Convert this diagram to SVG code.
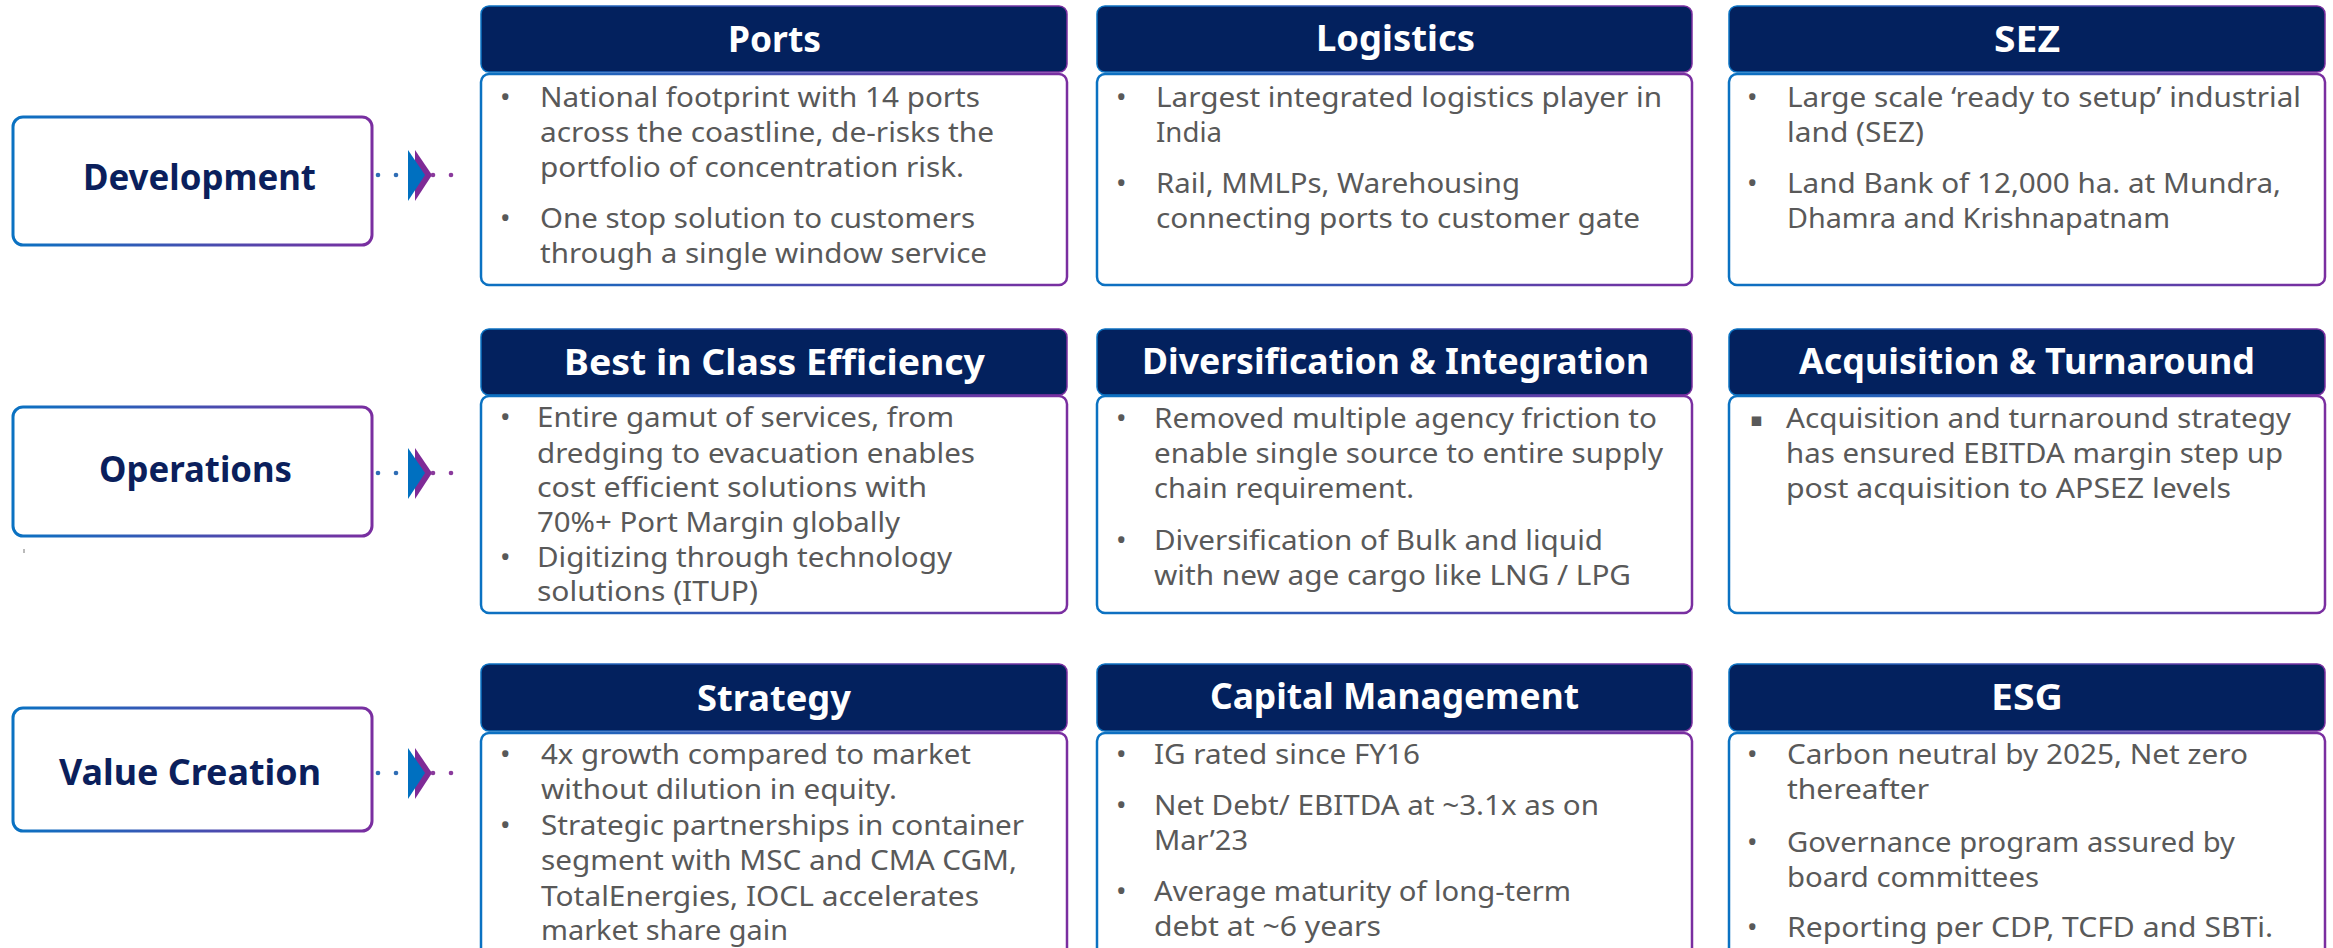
<svg xmlns="http://www.w3.org/2000/svg" width="2333" height="948" viewBox="0 0 2333 948">
  <defs>
    <linearGradient id="edge" x1="0" y1="0" x2="1" y2="0">
      <stop offset="0" stop-color="#0A72C2"/>
      <stop offset="1" stop-color="#7A2EA0"/>
    </linearGradient>
  </defs>
  <style>
    .lbl { fill:#fff; stroke:url(#edge); stroke-width:3; }
    .hdr { fill:#03215E; stroke:url(#edge); stroke-width:1.5; }
    .card { fill:#fff; stroke:url(#edge); stroke-width:2.5; }
    text { font-family:"Noto Sans","DejaVu Sans",sans-serif; }
    .lt { font-size:36px; font-weight:700; fill:#0B1F5C; }
    .ht { font-size:35px; font-weight:700; fill:#ffffff; }
    .bt { font-size:28px; fill:#595959; }
    .bl { font-size:28px; fill:#595959; }
    .sq { font-size:19px; fill:#595959; }
    .dotb { fill:#2F6DB5; }
    .dotp { fill:#8A3A9C; }
    .chevb { fill:#0070C0; }
    .chevp { fill:#7F2A96; }
  </style>

  <!-- stage labels -->
  <g id="development">
    <rect class="lbl" x="13" y="117" width="359" height="128" rx="10"/>
    <text class="lt" x="83" y="190" textLength="233" lengthAdjust="spacingAndGlyphs">Development</text>
  </g>
  <g id="operations">
    <rect class="lbl" x="13" y="407" width="359" height="129" rx="10"/>
    <text class="lt" x="99" y="482" textLength="193" lengthAdjust="spacingAndGlyphs">Operations</text>
  </g>
  <g id="value-creation">
    <rect class="lbl" x="13" y="708" width="359" height="123" rx="10"/>
    <text class="lt" x="59" y="785" textLength="262" lengthAdjust="spacingAndGlyphs">Value Creation</text>
  </g>

  <!-- small tick under the operations label -->
  <line x1="24" y1="549" x2="24" y2="553" stroke="#777" stroke-width="1"/>

  <!-- dotted chevron connectors -->
  <g id="connectors">
    <g transform="translate(0,175)">
      <circle class="dotb" cx="378" cy="0" r="2.3"/>
      <circle class="dotb" cx="396" cy="0" r="2.3"/>
      <polygon class="chevp" points="415,-25 432,0 415,26"/>
      <polygon class="chevb" points="408,-25 425,0 408,26"/>
      <circle class="dotp" cx="433" cy="0" r="2.3"/>
      <circle class="dotp" cx="451" cy="0" r="2.3"/>
    </g>
    <g transform="translate(0,473)">
      <circle class="dotb" cx="378" cy="0" r="2.3"/>
      <circle class="dotb" cx="396" cy="0" r="2.3"/>
      <polygon class="chevp" points="415,-25 432,0 415,26"/>
      <polygon class="chevb" points="408,-25 425,0 408,26"/>
      <circle class="dotp" cx="433" cy="0" r="2.3"/>
      <circle class="dotp" cx="451" cy="0" r="2.3"/>
    </g>
    <g transform="translate(0,773)">
      <circle class="dotb" cx="378" cy="0" r="2.3"/>
      <circle class="dotb" cx="396" cy="0" r="2.3"/>
      <polygon class="chevp" points="415,-25 432,0 415,26"/>
      <polygon class="chevb" points="408,-25 425,0 408,26"/>
      <circle class="dotp" cx="433" cy="0" r="2.3"/>
      <circle class="dotp" cx="451" cy="0" r="2.3"/>
    </g>
  </g>

  <!-- row 1 -->
  <g id="ports">
    <rect class="hdr" x="481" y="6" width="586" height="66" rx="8"/>
    <text class="ht" x="728" y="52" textLength="93" lengthAdjust="spacingAndGlyphs">Ports</text>
    <rect class="card" x="481" y="74" width="586" height="211" rx="8"/>
    <text class="bl" x="500" y="107">•</text>
    <text class="bt" x="540" y="107" textLength="440" lengthAdjust="spacingAndGlyphs">National footprint with 14 ports</text>
    <text class="bt" x="540" y="142" textLength="454" lengthAdjust="spacingAndGlyphs">across the coastline, de-risks the</text>
    <text class="bt" x="540" y="177" textLength="424" lengthAdjust="spacingAndGlyphs">portfolio of concentration risk.</text>
    <text class="bl" x="500" y="228">•</text>
    <text class="bt" x="540" y="228" textLength="435" lengthAdjust="spacingAndGlyphs">One stop solution to customers</text>
    <text class="bt" x="540" y="263" textLength="447" lengthAdjust="spacingAndGlyphs">through a single window service</text>
  </g>
  <g id="logistics">
    <rect class="hdr" x="1097" y="6" width="595" height="66" rx="8"/>
    <text class="ht" x="1316" y="51" textLength="159" lengthAdjust="spacingAndGlyphs">Logistics</text>
    <rect class="card" x="1097" y="74" width="595" height="211" rx="8"/>
    <text class="bl" x="1116" y="107">•</text>
    <text class="bt" x="1156" y="107" textLength="506" lengthAdjust="spacingAndGlyphs">Largest integrated logistics player in</text>
    <text class="bt" x="1156" y="142" textLength="66" lengthAdjust="spacingAndGlyphs">India</text>
    <text class="bl" x="1116" y="193">•</text>
    <text class="bt" x="1156" y="193" textLength="364" lengthAdjust="spacingAndGlyphs">Rail, MMLPs, Warehousing</text>
    <text class="bt" x="1156" y="228" textLength="484" lengthAdjust="spacingAndGlyphs">connecting ports to customer gate</text>
  </g>
  <g id="sez">
    <rect class="hdr" x="1729" y="6" width="596" height="66" rx="8"/>
    <text class="ht" x="1994" y="52" textLength="66" lengthAdjust="spacingAndGlyphs">SEZ</text>
    <rect class="card" x="1729" y="74" width="596" height="211" rx="8"/>
    <text class="bl" x="1747" y="107">•</text>
    <text class="bt" x="1787" y="107" textLength="514" lengthAdjust="spacingAndGlyphs">Large scale ‘ready to setup’ industrial</text>
    <text class="bt" x="1787" y="142" textLength="137" lengthAdjust="spacingAndGlyphs">land (SEZ)</text>
    <text class="bl" x="1747" y="193">•</text>
    <text class="bt" x="1787" y="193" textLength="494" lengthAdjust="spacingAndGlyphs">Land Bank of 12,000 ha. at Mundra,</text>
    <text class="bt" x="1787" y="228" textLength="383" lengthAdjust="spacingAndGlyphs">Dhamra and Krishnapatnam</text>
  </g>

  <!-- row 2 -->
  <g id="best-in-class-efficiency">
    <rect class="hdr" x="481" y="329" width="586" height="66" rx="8"/>
    <text class="ht" x="564" y="375" textLength="421" lengthAdjust="spacingAndGlyphs">Best in Class Efficiency</text>
    <rect class="card" x="481" y="396" width="586" height="217" rx="8"/>
    <text class="bl" x="500" y="427">•</text>
    <text class="bt" x="537" y="427" textLength="417" lengthAdjust="spacingAndGlyphs">Entire gamut of services, from</text>
    <text class="bt" x="537" y="463" textLength="438" lengthAdjust="spacingAndGlyphs">dredging to evacuation enables</text>
    <text class="bt" x="537" y="497" textLength="390" lengthAdjust="spacingAndGlyphs">cost efficient solutions with</text>
    <text class="bt" x="537" y="532" textLength="363" lengthAdjust="spacingAndGlyphs">70%+ Port Margin globally</text>
    <text class="bl" x="500" y="567">•</text>
    <text class="bt" x="537" y="567" textLength="415" lengthAdjust="spacingAndGlyphs">Digitizing through technology</text>
    <text class="bt" x="537" y="601" textLength="221" lengthAdjust="spacingAndGlyphs">solutions (ITUP)</text>
  </g>
  <g id="diversification-integration">
    <rect class="hdr" x="1097" y="329" width="595" height="66" rx="8"/>
    <text class="ht" x="1142" y="374" textLength="507" lengthAdjust="spacingAndGlyphs">Diversification &amp; Integration</text>
    <rect class="card" x="1097" y="396" width="595" height="217" rx="8"/>
    <text class="bl" x="1116" y="428">•</text>
    <text class="bt" x="1154" y="428" textLength="503" lengthAdjust="spacingAndGlyphs">Removed multiple agency friction to</text>
    <text class="bt" x="1154" y="463" textLength="509" lengthAdjust="spacingAndGlyphs">enable single source to entire supply</text>
    <text class="bt" x="1154" y="498" textLength="260" lengthAdjust="spacingAndGlyphs">chain requirement.</text>
    <text class="bl" x="1116" y="550">•</text>
    <text class="bt" x="1154" y="550" textLength="449" lengthAdjust="spacingAndGlyphs">Diversification of Bulk and liquid</text>
    <text class="bt" x="1154" y="585" textLength="477" lengthAdjust="spacingAndGlyphs">with new age cargo like LNG / LPG</text>
  </g>
  <g id="acquisition-turnaround">
    <rect class="hdr" x="1729" y="329" width="596" height="66" rx="8"/>
    <text class="ht" x="1799" y="374" textLength="456" lengthAdjust="spacingAndGlyphs">Acquisition &amp; Turnaround</text>
    <rect class="card" x="1729" y="396" width="596" height="217" rx="8"/>
    <text class="sq" x="1750" y="426">▪</text>
    <text class="bt" x="1786" y="428" textLength="505" lengthAdjust="spacingAndGlyphs">Acquisition and turnaround strategy</text>
    <text class="bt" x="1786" y="463" textLength="497" lengthAdjust="spacingAndGlyphs">has ensured EBITDA margin step up</text>
    <text class="bt" x="1786" y="498" textLength="445" lengthAdjust="spacingAndGlyphs">post acquisition to APSEZ levels</text>
  </g>

  <!-- row 3 -->
  <g id="strategy">
    <rect class="hdr" x="481" y="664" width="586" height="67" rx="8"/>
    <text class="ht" x="697" y="711" textLength="154" lengthAdjust="spacingAndGlyphs">Strategy</text>
    <rect class="card" x="481" y="733" width="586" height="230" rx="8"/>
    <text class="bl" x="500" y="764">•</text>
    <text class="bt" x="541" y="764" textLength="430" lengthAdjust="spacingAndGlyphs">4x growth compared to market</text>
    <text class="bt" x="541" y="799" textLength="356" lengthAdjust="spacingAndGlyphs">without dilution in equity.</text>
    <text class="bl" x="500" y="835">•</text>
    <text class="bt" x="541" y="835" textLength="483" lengthAdjust="spacingAndGlyphs">Strategic partnerships in container</text>
    <text class="bt" x="541" y="870" textLength="476" lengthAdjust="spacingAndGlyphs">segment with MSC and CMA CGM,</text>
    <text class="bt" x="541" y="906" textLength="438" lengthAdjust="spacingAndGlyphs">TotalEnergies, IOCL accelerates</text>
    <text class="bt" x="541" y="940" textLength="247" lengthAdjust="spacingAndGlyphs">market share gain</text>
  </g>
  <g id="capital-management">
    <rect class="hdr" x="1097" y="664" width="595" height="67" rx="8"/>
    <text class="ht" x="1210" y="709" textLength="369" lengthAdjust="spacingAndGlyphs">Capital Management</text>
    <rect class="card" x="1097" y="733" width="595" height="230" rx="8"/>
    <text class="bl" x="1116" y="764">•</text>
    <text class="bt" x="1154" y="764" textLength="266" lengthAdjust="spacingAndGlyphs">IG rated since FY16</text>
    <text class="bl" x="1116" y="815">•</text>
    <text class="bt" x="1154" y="815" textLength="445" lengthAdjust="spacingAndGlyphs">Net Debt/ EBITDA at ~3.1x as on</text>
    <text class="bt" x="1154" y="850" textLength="94" lengthAdjust="spacingAndGlyphs">Mar’23</text>
    <text class="bl" x="1116" y="901">•</text>
    <text class="bt" x="1154" y="901" textLength="417" lengthAdjust="spacingAndGlyphs">Average maturity of long-term</text>
    <text class="bt" x="1154" y="936" textLength="227" lengthAdjust="spacingAndGlyphs">debt at ~6 years</text>
  </g>
  <g id="esg">
    <rect class="hdr" x="1729" y="664" width="596" height="67" rx="8"/>
    <text class="ht" x="1991" y="710" textLength="72" lengthAdjust="spacingAndGlyphs">ESG</text>
    <rect class="card" x="1729" y="733" width="596" height="230" rx="8"/>
    <text class="bl" x="1747" y="764">•</text>
    <text class="bt" x="1787" y="764" textLength="461" lengthAdjust="spacingAndGlyphs">Carbon neutral by 2025, Net zero</text>
    <text class="bt" x="1787" y="799" textLength="142" lengthAdjust="spacingAndGlyphs">thereafter</text>
    <text class="bl" x="1747" y="852">•</text>
    <text class="bt" x="1787" y="852" textLength="448" lengthAdjust="spacingAndGlyphs">Governance program assured by</text>
    <text class="bt" x="1787" y="887" textLength="252" lengthAdjust="spacingAndGlyphs">board committees</text>
    <text class="bl" x="1747" y="937">•</text>
    <text class="bt" x="1787" y="937" textLength="486" lengthAdjust="spacingAndGlyphs">Reporting per CDP, TCFD and SBTi.</text>
  </g>
</svg>
